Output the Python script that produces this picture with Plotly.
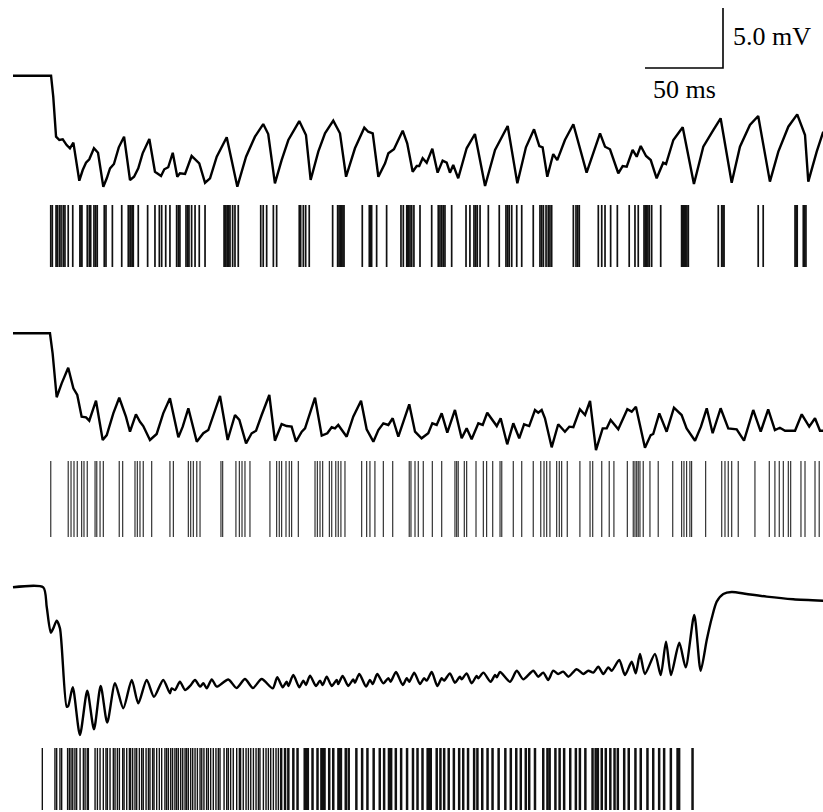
import plotly.graph_objects as go

# ---------------- data (time in ms, potential in mV relative to pre-stimulus level) ----------------
t1 = [0, 24.4, 25.8, 27.6, 29.7, 31.9, 34.4, 36.5, 38.7, 42.5, 44.7, 46.8, 48.9, 51.9, 54.5, 57.9,
      60.1, 62.2, 64.7, 67.8, 71.2, 75.0, 77.6, 80.3, 83.1, 87.4, 91.0, 94.9, 97.0, 99.5, 102.4,
      105.3, 107.0, 110.3, 114.5, 116.7, 119.4, 123.1, 126.3, 130.6, 137.0, 143.8, 149.4, 155.1,
      160.4, 163.6, 167.9, 172.2, 176.5, 183.5, 187.8, 190.8, 195.7, 200.0, 205.3, 209.6, 213.5,
      219.2, 225.2, 227.7, 230.6, 234.2, 238.5, 240.6, 244.2, 249.8, 252.7, 256.2, 258.8, 260.4,
      262.6, 265.2, 268.8, 272.2, 275.4, 278.0, 280.1, 282.2, 285.4, 290.8, 296.1, 302.6, 309.0,
      317.1, 323.3, 328.8, 334.0, 337.4, 339.5, 342.5, 346.3, 348.9, 353.8, 359.2, 367.7, 376.3,
      379.5, 382.7, 388.0, 390.8, 393.4, 397.2, 399.8, 402.4, 405.8, 408.8, 412.6, 416.8, 418.6,
      423.3, 429.3, 436.5, 442.5, 448.9, 453.6, 460.7, 466.0, 472.4, 477.7, 485.2, 490.6, 497.0,
      502.7, 507.7, 509.8, 515.2, 519.4]
v1 = [0, 0, -1.75, -5.08, -5.36, -5.3, -5.78, -6.05, -5.58, -8.75, -7.86, -7.25, -6.97, -6.05, -6.42,
      -9.25, -8.55, -7.72, -7.36, -5.97, -5.08, -8.69, -8.42, -7.72, -6.47, -5.28, -8.0, -8.36, -7.8,
      -7.63, -6.42, -8.42, -8.13, -8.19, -6.69, -6.97, -7.3, -8.92, -8.55, -6.75, -5.13, -9.25, -6.75,
      -5.08, -4.03, -4.86, -8.97, -7.03, -5.36, -3.78, -4.94, -8.69, -6.33, -4.8, -3.75, -4.8, -8.42,
      -6.05, -4.33, -4.67, -4.8, -8.42, -7.3, -6.47, -6.13, -4.58, -5.63, -8.0, -7.53, -7.53, -6.88,
      -7.25, -6.08, -8.08, -7.08, -7.25, -8.08, -7.44, -8.55, -6.05, -4.86, -9.19, -6.19, -4.19, -8.97,
      -5.97, -4.47, -5.86, -5.97, -8.42, -6.53, -7.03, -5.36, -4.05, -8.08, -4.8, -5.92, -6.13, -8.13,
      -7.53, -7.58, -6.19, -6.75, -5.86, -6.69, -7.03, -8.55, -7.25, -7.36, -5.36, -4.3, -9.03, -5.92,
      -4.53, -3.55, -8.92, -5.92, -4.11, -3.36, -8.83, -6.33, -4.25, -3.22, -4.94, -8.83, -6.33, -4.67]

t2 = [0, 23.7, 25.4, 28.0, 31.2, 35.4, 38.7, 41.2, 44.0, 46.8, 48.9, 53.2, 57.5, 60.1, 64.3, 68.1,
      72.4, 75.0, 78.8, 81.4, 83.5, 87.8, 92.1, 96.3, 100.6, 106.0, 108.8, 112.4, 117.8, 122.0, 125.2,
      132.7, 137.6, 142.3, 145.1, 149.4, 153.0, 155.8, 159.4, 164.3, 167.9, 172.2, 175.4, 178.6, 181.4,
      185.1, 187.2, 193.6, 197.9, 201.5, 204.3, 206.4, 208.5, 213.9, 218.1, 223.1, 226.7, 231.0, 234.2,
      237.4, 240.6, 243.4, 247.0, 254.0, 257.7, 261.9, 266.2, 268.8, 271.6, 274.8, 278.4, 283.3, 287.6,
      290.8, 294.0, 298.3, 301.1, 304.0, 310.1, 312.6, 316.8, 320.7, 324.5, 327.6, 330.9, 334.6, 336.7,
      338.9, 341.0, 345.3, 349.5, 353.8, 356.6, 359.2, 363.4, 366.7, 369.9, 373.7, 378.0, 380.6, 383.1,
      388.0, 393.8, 396.6, 399.3, 405.1, 408.8, 410.4, 414.3, 419.0, 423.7, 428.6, 431.8, 437.2, 441.0,
      444.7, 448.5, 453.6, 458.5, 463.9, 468.6, 474.5, 479.3, 484.1, 488.4, 491.6, 494.9, 501.3, 505.6,
      510.4, 514.1, 517.3, 519.4]
v2 = [0, 0, -1.67, -5.33, -4.17, -2.87, -4.58, -5.14, -6.95, -7.0, -7.28, -5.62, -8.89, -8.48, -6.67,
      -5.37, -6.95, -8.2, -6.75, -7.37, -7.73, -8.89, -8.39, -6.67, -5.42, -8.67, -7.78, -6.25, -9.03,
      -8.33, -8.06, -5.22, -8.89, -6.81, -7.22, -9.17, -8.33, -8.12, -6.81, -5.14, -8.95, -7.56, -7.73,
      -7.78, -9.03, -8.2, -7.92, -5.37, -8.53, -8.33, -7.83, -7.92, -7.64, -8.62, -6.95, -5.62, -8.0,
      -9.03, -8.06, -7.5, -7.64, -7.08, -8.62, -5.92, -8.2, -8.75, -8.33, -7.5, -7.64, -6.67, -8.28,
      -6.39, -8.75, -7.92, -8.83, -7.5, -7.64, -6.62, -7.73, -7.08, -9.25, -7.5, -8.75, -7.58, -7.73,
      -6.39, -6.62, -6.39, -7.08, -9.5, -7.58, -8.2, -7.78, -7.83, -6.33, -6.81, -5.64, -9.73, -7.92,
      -7.92, -7.22, -8.0, -6.33, -6.53, -6.12, -9.53, -8.48, -8.39, -6.67, -8.2, -6.2, -6.81, -7.92,
      -8.95, -7.78, -6.25, -8.33, -6.25, -7.92, -8.0, -8.95, -6.39, -8.2, -6.33, -8.06, -7.87, -8.12,
      -8.12, -6.75, -7.78, -7.08, -8.12, -8.12]

t3 = [0, 19.4, 21.6, 24.2, 25.8, 28.0, 30.1, 34.4, 35.4, 38.3, 42.9, 47.6, 51.9, 56.2, 60.4, 65.4,
      70.7, 76.1, 80.3, 85.7, 90.4, 96.3, 100.6, 101.7, 103.8, 107.0, 110.3, 113.5, 116.7, 119.9,
      122.0, 124.2, 127.4, 130.6, 138.0, 143.3, 148.7, 153.8, 159.4, 166.5, 169.4, 172.9, 175.4,
      176.5, 179.7, 183.5, 186.1, 187.8, 190.4, 194.2, 196.8, 198.5, 201.1, 204.3, 207.5, 208.5,
      211.3, 214.9, 218.1, 219.2, 222.0, 226.3, 228.8, 230.6, 233.5, 237.4, 240.6, 242.1, 245.5,
      249.8, 252.4, 254.0, 257.2, 260.9, 263.5, 265.2, 268.4, 272.0, 274.8, 276.3, 280.1, 283.3,
      286.5, 287.6, 290.8, 294.0, 297.2, 298.3, 301.5, 306.2, 309.0, 310.1, 312.2, 318.6, 322.9,
      327.1, 333.5, 336.7, 339.9, 343.1, 346.3, 349.5, 352.7, 356.0, 361.3, 365.6, 368.8, 372.0,
      375.2, 378.4, 381.6, 383.8, 388.6, 392.3, 396.6, 399.2, 401.9, 405.1, 411.5, 415.2, 418.6,
      421.8, 427.1, 431.2, 436.7, 440.8, 444.7, 447.9, 451.1, 455.3, 460.7, 470.3, 483.1, 500.2, 519.4]
v3 = [0, 0, -1.62, -3.78, -3.42, -2.78, -3.42, -9.95, -9.89, -8.33, -12.31, -8.62, -11.83, -8.22,
      -11.28, -8.0, -10.08, -7.72, -9.67, -7.72, -9.12, -7.72, -8.83, -8.42, -8.56, -7.87, -8.56,
      -8.22, -7.72, -8.28, -8.0, -8.42, -7.67, -8.28, -7.68, -8.39, -7.64, -8.39, -7.64, -8.42, -7.5,
      -8.33, -7.87, -8.22, -7.31, -8.33, -7.78, -8.14, -7.37, -8.22, -7.78, -8.14, -7.45, -8.22, -7.72,
      -8.06, -7.39, -8.22, -7.67, -7.95, -7.22, -8.28, -7.72, -8.06, -7.22, -8.0, -7.58, -7.87, -7.06,
      -8.14, -7.58, -7.87, -7.11, -8.06, -7.58, -7.78, -7.06, -8.22, -7.58, -7.78, -7.17, -7.95, -7.45,
      -7.67, -7.17, -8.0, -7.39, -7.58, -7.11, -7.87, -7.31, -7.5, -7.06, -7.87, -6.95, -7.67, -6.95,
      -7.45, -7.11, -7.72, -6.95, -7.22, -7.03, -7.45, -6.83, -7.22, -6.95, -7.11, -6.62, -7.22, -6.67,
      -6.95, -6.06, -7.31, -6.2, -7.17, -5.56, -7.22, -5.56, -7.31, -4.53, -7.31, -4.62, -6.67, -2.31,
      -6.95, -4.39, -2.58, -1.2, -0.56, -0.39, -0.56, -0.78, -1.0, -1.12]

spikes1 = [24.2, 25.2, 27.6, 28.4, 29.7, 30.8, 32.2, 33.3, 35.4, 38.3, 42.9, 43.6, 44.2, 47.6, 48.9,
           49.8, 51.9, 53.0, 54.0, 58.5, 59.6, 63.7, 69.7, 73.9, 75.0, 75.6, 76.5, 77.1, 80.3, 86.3,
           91.0, 93.8, 95.3, 97.9, 100.6, 104.9, 106.0, 107.0, 110.9, 112.0, 112.8, 114.5, 116.7,
           119.4, 123.1, 135.3, 135.9, 136.5, 137.4, 138.3, 139.1, 140.8, 142.3, 144.4, 158.8, 160.4,
           162.6, 166.9, 169.0, 183.5, 184.4, 186.1, 187.6, 189.9, 204.9, 208.1, 209.0, 209.8, 210.7,
           211.5, 212.2, 223.9, 228.4, 229.3, 229.9, 233.1, 239.5, 248.7, 250.2, 252.4, 253.0, 253.6,
           254.5, 255.6, 257.0, 260.9, 268.4, 272.6, 273.7, 274.8, 275.8, 276.9, 281.2, 290.4, 292.9,
           295.5, 296.6, 297.6, 299.4, 304.7, 311.7, 316.0, 317.1, 318.1, 319.7, 322.9, 326.1, 333.5,
           337.8, 338.9, 340.0, 341.7, 343.1, 344.2, 345.3, 359.2, 360.9, 362.0, 363.0, 375.2, 377.4,
           379.5, 383.1, 387.4, 395.0, 398.7, 400.8, 404.5, 405.3, 406.2, 407.0, 407.9, 409.4, 415.2,
           428.6, 429.3, 429.9, 430.6, 431.2, 432.0, 432.9, 452.1, 454.3, 455.1, 455.8, 477.7, 480.9,
           501.3, 502.0, 502.7, 506.6, 507.5, 508.3]

spikes2 = [24.2, 35.4, 37.2, 39.1, 41.2, 44.0, 45.5, 47.6, 52.6, 53.7, 55.8, 57.9, 68.1, 70.3, 78.2,
           79.7, 81.4, 83.5, 88.9, 100.6, 102.8, 112.4, 113.9, 115.6, 117.8, 119.9, 133.3, 134.4,
           142.9, 145.1, 146.8, 148.7, 151.9, 164.7, 169.0, 170.7, 172.2, 175.0, 177.1, 178.6, 182.9,
           193.6, 195.1, 196.8, 198.5, 202.8, 204.3, 206.9, 208.5, 210.2, 212.8, 223.5, 226.7, 228.8,
           232.0, 237.4, 243.4, 254.0, 255.1, 257.7, 259.8, 263.0, 268.8, 274.8, 283.3, 284.4, 285.4,
           289.3, 290.8, 296.8, 301.5, 303.6, 307.5, 312.2, 313.3, 320.7, 326.1, 333.5, 338.3, 340.4,
           342.1, 344.2, 348.5, 350.2, 351.7, 355.3, 363.4, 369.9, 371.6, 377.4, 382.2, 385.2, 393.8,
           397.6, 398.7, 399.8, 400.8, 401.9, 404.0, 408.3, 413.6, 422.9, 428.6, 430.1, 431.8, 433.9,
           435.0, 444.0, 454.3, 456.4, 458.5, 460.7, 464.9, 475.6, 484.8, 488.4, 491.2, 493.8, 497.0,
           498.5, 505.1, 507.7, 514.1, 516.8]

spikes3 = [18.8, 26.9, 28.0, 30.1, 31.2, 35.0, 36.1, 37.2, 38.3, 39.7, 40.8, 43.0, 45.1, 46.2, 47.6,
           48.3, 52.6, 54.1, 55.8, 57.9, 59.6, 60.5, 62.2, 64.3, 65.4, 66.9, 68.2, 70.3, 71.2, 72.9,
           74.6, 75.4, 76.7, 78.2, 79.3, 81.0, 82.5, 83.5, 85.3, 86.8, 87.8, 89.5, 90.4, 92.1, 93.8,
           95.3, 97.4, 98.5, 99.6, 101.1, 102.3, 103.8, 104.9, 106.0, 107.5, 108.8, 110.3, 111.3,
           112.4, 113.9, 115.2, 116.7, 118.2, 119.9, 121.0, 122.4, 124.1, 125.2, 126.7, 128.4, 130.1,
           131.6, 132.7, 135.3, 137.0, 138.0, 139.5, 141.2, 143.4, 145.1, 145.9, 147.6, 149.4, 150.9,
           152.4, 154.1, 155.8, 157.3, 158.3, 160.5, 162.2, 163.7, 165.2, 166.9, 168.6, 170.1, 171.9,
           174.4, 176.5, 179.7, 182.4, 187.0, 188.0, 189.0, 192.0, 195.2, 197.7, 198.7, 199.7, 202.7,
           205.3, 208.6, 209.4, 210.2, 213.3, 215.2, 220.1, 223.8, 227.2, 231.2, 235.1, 237.9, 241.0,
           241.7, 242.4, 245.4, 248.8, 252.6, 256.4, 259.3, 262.5, 265.8, 266.8, 267.8, 271.6, 274.0,
           276.4, 279.3, 282.6, 286.0, 288.6, 291.7, 295.6, 297.7, 300.8, 304.2, 307.4, 311.3, 315.6,
           319.1, 322.6, 325.5, 328.7, 330.9, 334.6, 339.9, 342.6, 344.0, 347.7, 350.4, 353.3, 357.2,
           360.8, 363.4, 366.9, 371.5, 373.5, 374.9, 377.4, 380.0, 382.9, 385.6, 387.7, 391.8, 394.7,
           399.0, 402.4, 406.7, 410.4, 414.2, 417.4, 421.7, 426.0, 427.0, 435.6]

scale_ms = 50.0
scale_mv = 5.0
scale_labels = ["5.0 mV", "50 ms"]

# ---------------- layout helpers (pixel geometry of the 823x812 page) ----------------
W, H = 823, 812
PX_PER_MS = 78.0 / 50.0
PX_PER_MV = 12.0
X0_PX = 13.0  # pixel where t = 0


def frac(py):
    return 1 - py / H


def yrange(base_py, top_py, bot_py):
    return [(base_py - bot_py) / PX_PER_MV, (base_py - top_py) / PX_PER_MV]


def raster_xy(times):
    xs, ys = [], []
    for s in times:
        xs += [s, s, None]
        ys += [0, 1, None]
    return xs, ys


fig = go.Figure()
line_style = dict(color="black", width=2.4)

fig.add_trace(go.Scatter(x=t1, y=v1, mode="lines", line=line_style, yaxis="y"))
fig.add_trace(go.Scatter(x=t2, y=v2, mode="lines", line=line_style, yaxis="y3"))
fig.add_trace(go.Scatter(x=t3, y=v3, mode="lines",
                         line=dict(color="black", width=2.4, shape="spline", smoothing=0.7), yaxis="y5"))

dense3 = [s for s in spikes3 if s < 171]
sparse3 = [s for s in spikes3 if s >= 171]
for times, ax, w, c in [(spikes1, "y2", 1.7, "#111"),
                        (spikes2, "y4", 1.2, "#333"),
                        (dense3, "y6", 1.4, "#111"),
                        (sparse3, "y6", 2.5, "#111")]:
    xs, ys = raster_xy(times)
    fig.add_trace(go.Scatter(x=xs, y=ys, mode="lines", line=dict(color=c, width=w), yaxis=ax))

# scale bar (in panel 1 coordinates)
bar_y = (75.7 - 68) / PX_PER_MV
bar_t0 = (645 - X0_PX) / PX_PER_MS
fig.add_trace(go.Scatter(x=[bar_t0, bar_t0 + scale_ms, bar_t0 + scale_ms],
                         y=[bar_y, bar_y, bar_y + scale_mv], mode="lines",
                         line=dict(color="black", width=1.6), yaxis="y"))

font = dict(family="Liberation Serif, Times New Roman, serif", size=26, color="black")
annotations = [
    dict(x=bar_t0 + scale_ms + 5, y=bar_y + scale_mv / 2 + 0.1, xref="x", yref="y", text=scale_labels[0],
         showarrow=False, xanchor="left", yanchor="middle", font=font),
    dict(x=bar_t0 + scale_ms / 2 + 0.5, y=bar_y - 1.75, xref="x", yref="y", text=scale_labels[1],
         showarrow=False, xanchor="center", yanchor="middle", font=font),
]

hidden = dict(visible=False, showgrid=False, zeroline=False, fixedrange=True)
fig.update_layout(
    width=W, height=H,
    margin=dict(l=0, r=0, t=0, b=0),
    paper_bgcolor="white", plot_bgcolor="white",
    showlegend=False,
    xaxis=dict(range=[-X0_PX / PX_PER_MS, (W - X0_PX) / PX_PER_MS], domain=[0, 1], **hidden),
    yaxis=dict(domain=[frac(200), frac(0)], range=yrange(75.7, 0, 200), anchor="x", **hidden),
    yaxis2=dict(domain=[frac(267), frac(205)], range=[0, 1], anchor="x", **hidden),
    yaxis3=dict(domain=[frac(455), frac(300)], range=yrange(333.3, 300, 455), anchor="x", **hidden),
    yaxis4=dict(domain=[frac(537), frac(461)], range=[0, 1], anchor="x", **hidden),
    yaxis5=dict(domain=[frac(745), frac(570)], range=yrange(587.3, 570, 745), anchor="x", **hidden),
    yaxis6=dict(domain=[frac(810), frac(748)], range=[0, 1], anchor="x", **hidden),
    annotations=annotations,
)

fig.write_html("out.html", config={"staticPlot": True},
               post_script="document.body.style.margin='0';document.body.style.padding='0';")
